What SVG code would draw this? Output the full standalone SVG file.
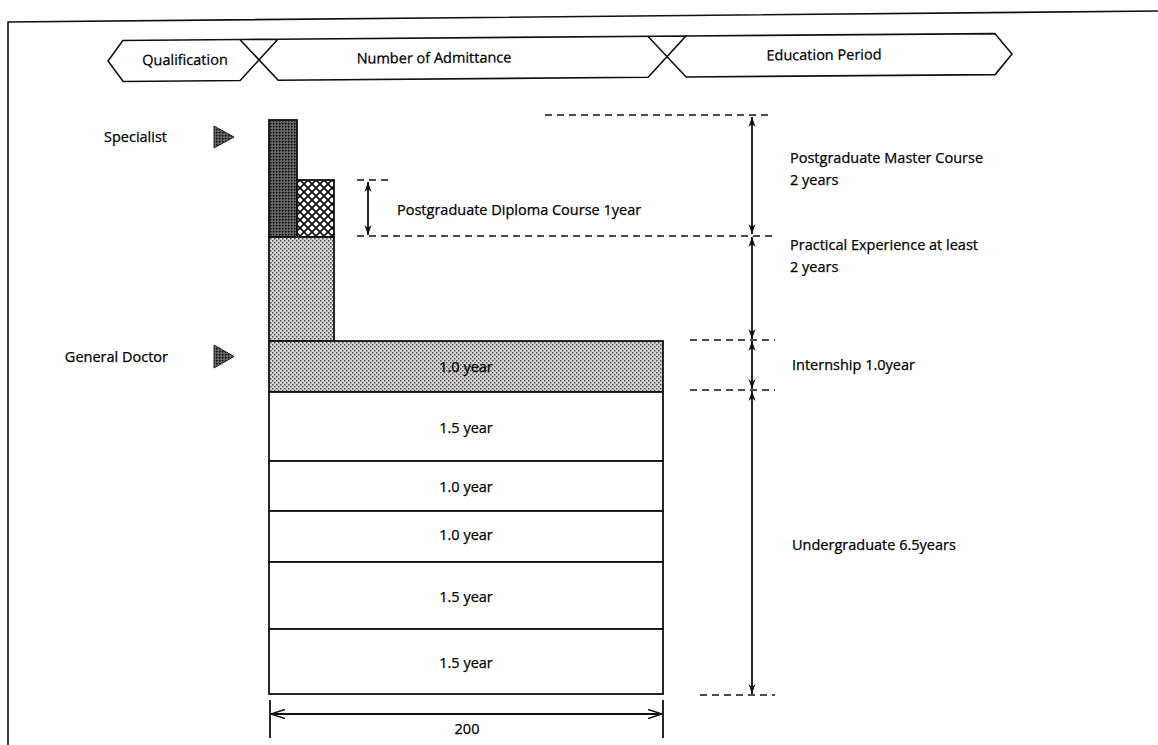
<svg xmlns="http://www.w3.org/2000/svg" width="1158" height="745" viewBox="0 0 1158 745">
  <defs>
    <style>
      .t { font-family: "Open Sans", "Noto Sans", "Liberation Sans", sans-serif; font-size: 14.5px; fill: #000; stroke: #000; stroke-width: 0.25px; }
      .mid { text-anchor: middle; }
      .end { text-anchor: end; }
      .ln { stroke: #111; stroke-width: 1.6; fill: none; }
      .box { stroke: #111; stroke-width: 1.8; }
      .plain { fill: #fff; }
      .light { fill: url(#stipLight); }
      .dark { fill: url(#stipDark); }
      .hatch { fill: url(#xhatch); }
      .dash { stroke: #111; stroke-width: 1.4; stroke-dasharray: 7 5; fill: none; }
      .dim { stroke: #111; stroke-width: 1.8; fill: none; }
      .tri { fill: url(#stipDark); stroke: #222; stroke-width: 1; }
    </style>
    <!-- light stipple -->
    <pattern id="stipLight" width="4" height="4" patternUnits="userSpaceOnUse">
      <rect width="4" height="4" fill="#d2d2d2"/>
      <rect x="0" y="0" width="1.5" height="1.5" fill="#555"/>
      <rect x="2" y="2" width="1.5" height="1.5" fill="#555"/>
    </pattern>
    <!-- dark stipple -->
    <pattern id="stipDark" width="3" height="3" patternUnits="userSpaceOnUse">
      <rect width="3" height="3" fill="#555"/>
      <rect x="0" y="0" width="1.5" height="1.5" fill="#111"/>
      <rect x="1.5" y="1.5" width="1" height="1" fill="#aaa"/>
    </pattern>
    <!-- diagonal cross-hatch -->
    <pattern id="xhatch" width="8" height="8" patternUnits="userSpaceOnUse">
      <rect width="8" height="8" fill="#fff"/>
      <path d="M0 0 L8 8 M8 0 L0 8" stroke="#111" stroke-width="1.7"/>
    </pattern>
    <marker id="ah" viewBox="0 0 10 10" refX="10" refY="5" markerWidth="12" markerHeight="10" orient="auto-start-reverse" markerUnits="userSpaceOnUse">
      <path d="M0 1.5 L10 5 L0 8.5 L3 5 Z" fill="#111"/>
    </marker>
    <marker id="ahOpen" viewBox="0 0 14 10" refX="14" refY="5" markerWidth="14" markerHeight="10" orient="auto-start-reverse" markerUnits="userSpaceOnUse">
      <path d="M0 0.5 L14 5 L0 9.5" fill="none" stroke="#111" stroke-width="1.6"/>
    </marker>
  </defs>

  <rect width="1158" height="745" fill="#fff"/>

  <!-- outer frame -->
  <g id="frame">
    <path class="ln" d="M8 745 L8 22 L1158 11"/>
  </g>

  <!-- header band -->
  <g id="header" transform="rotate(-0.45 560 57)">
    <g id="hdr-qualification">
      <path class="ln" d="M278 37 L240 37 L123 37 L108 57.5 L123 78 L240 78 L278 37"/>
      <text class="t mid" x="185" y="62">Qualification</text>
    </g>
    <g id="hdr-admittance">
      <path class="ln" d="M240 37 L278 78 L648 78 L686 37 L278 37"/>
      <text class="t mid" x="434" y="62">Number of Admittance</text>
    </g>
    <g id="hdr-period">
      <path class="ln" d="M648 37 L686 78 L995 78 L1012 57.5 L995 37 L686 37"/>
      <text class="t mid" x="824" y="62">Education Period</text>
    </g>
  </g>

  <!-- qualification markers -->
  <g id="specialist">
    <text class="t end" x="167" y="142">Specialist</text>
    <path class="tri" d="M214 126 L234 137 L214 148 Z"/>
  </g>
  <g id="general-doctor">
    <text class="t end" x="168" y="362">General Doctor</text>
    <path class="tri" d="M214 345 L234 356.5 L214 368 Z"/>
  </g>

  <!-- postgraduate bars -->
  <g id="master-bar">
    <rect class="box dark" x="269" y="120" width="28" height="117"/>
  </g>
  <g id="diploma-bar">
    <rect class="box hatch" x="297" y="180" width="37" height="57"/>
  </g>
  <g id="practice-bar">
    <rect class="box light" x="269" y="237" width="65" height="104"/>
  </g>

  <!-- undergraduate and internship stack -->
  <g id="internship">
    <rect class="box light" x="269" y="341" width="394" height="51"/>
    <text class="t mid" x="466" y="372">1.0 year</text>
  </g>
  <g id="ug-1">
    <rect class="box plain" x="269" y="392" width="394" height="69"/>
    <text class="t mid" x="466" y="433">1.5 year</text>
  </g>
  <g id="ug-2">
    <rect class="box plain" x="269" y="461" width="394" height="50"/>
    <text class="t mid" x="466" y="492">1.0 year</text>
  </g>
  <g id="ug-3">
    <rect class="box plain" x="269" y="511" width="394" height="51"/>
    <text class="t mid" x="466" y="540">1.0 year</text>
  </g>
  <g id="ug-4">
    <rect class="box plain" x="269" y="562" width="394" height="67"/>
    <text class="t mid" x="466" y="602">1.5 year</text>
  </g>
  <g id="ug-5">
    <rect class="box plain" x="269" y="629" width="394" height="65"/>
    <text class="t mid" x="466" y="668">1.5 year</text>
  </g>

  <!-- period labels -->
  <g id="lbl-master">
    <text class="t" x="790" y="163">Postgraduate Master Course</text>
    <text class="t" x="790" y="185">2 years</text>
  </g>
  <g id="lbl-diploma">
    <text class="t" x="397" y="215">Postgraduate Diploma Course 1year</text>
  </g>
  <g id="lbl-practice">
    <text class="t" x="790" y="250">Practical Experience at least</text>
    <text class="t" x="790" y="272">2 years</text>
  </g>
  <g id="lbl-internship">
    <text class="t" x="792" y="370">Internship 1.0year</text>
  </g>
  <g id="lbl-undergraduate">
    <text class="t" x="792" y="550">Undergraduate 6.5years</text>
  </g>
  <g id="lbl-width">
    <text class="t mid" x="467" y="734">200</text>
  </g>

  <!-- guide lines and dimension arrows -->
  <g id="connectors">
    <path class="dash" d="M545 115 H772"/>
    <path class="dash" d="M357 236 H775"/>
    <path class="dash" d="M357 180 H392"/>
    <path class="dash" d="M690 340 H775"/>
    <path class="dash" d="M690 390 H775"/>
    <path class="dash" d="M700 695 H775"/>

    <path class="dim" d="M752 117 V234" marker-start="url(#ah)" marker-end="url(#ah)"/>
    <path class="dim" d="M752 237 V339" marker-start="url(#ah)" marker-end="url(#ah)"/>
    <path class="dim" d="M752 341 V389" marker-start="url(#ah)" marker-end="url(#ah)"/>
    <path class="dim" d="M752 391 V694" marker-start="url(#ah)" marker-end="url(#ah)"/>
    <path class="dim" d="M368 182 V235" marker-start="url(#ah)" marker-end="url(#ah)"/>

    <path class="dim" d="M270 700 V738 M663 700 V738"/>
    <path class="dim" d="M271 714 H662" marker-start="url(#ahOpen)" marker-end="url(#ahOpen)"/>
  </g>
</svg>
